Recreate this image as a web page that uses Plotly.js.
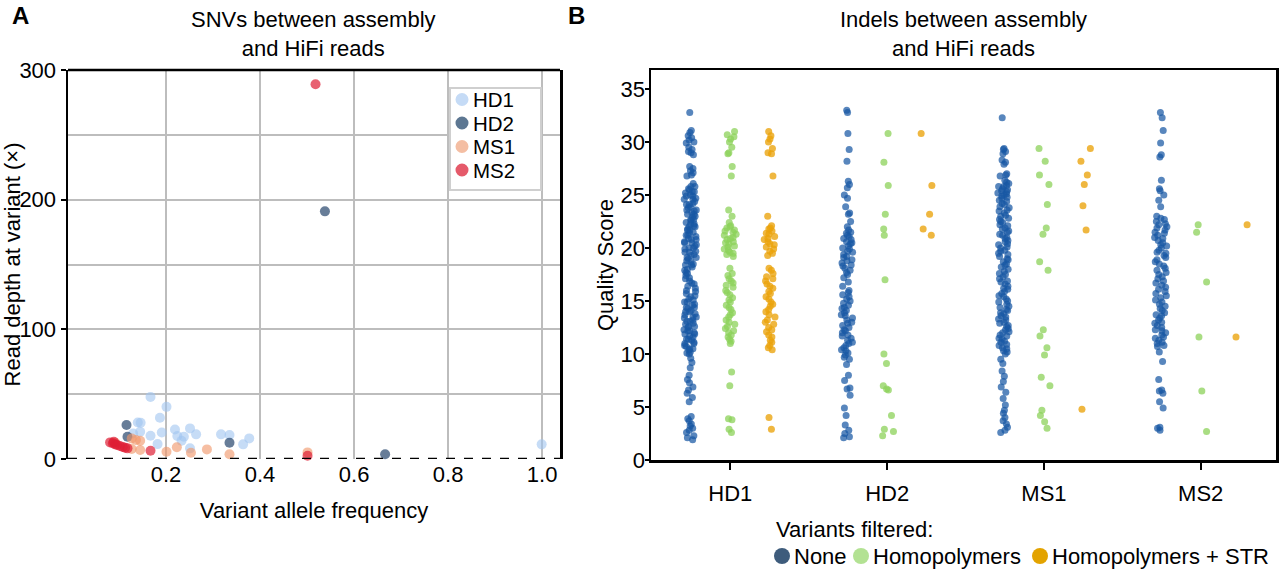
<!DOCTYPE html>
<html>
<head>
<meta charset="utf-8">
<script src="https://cdn.plot.ly/plotly-3.0.1.min.js"></script>
<style>
  html, body { margin: 0; padding: 0; background: #ffffff; }
  #chart { width: 1280px; height: 571px; }
</style>
</head>
<body>
<div id="chart"></div>
<script>
// ---------- Panel A: SNVs between assembly and HiFi reads ----------
const snvSamples = ['HD1', 'HD2', 'MS1', 'MS2'];

const hd1Vaf   = [0.167, 0.201, 0.187, 0.140, 0.146, 0.145, 0.191, 0.167, 0.219, 0.224, 0.233, 0.238, 0.251, 0.264, 0.251, 0.182, 0.317, 0.335, 0.364, 0.377, 0.999, 0.130];
const hd1Depth = [47.9, 40.2, 31.8, 28.2, 27.9, 21.0, 20.5, 17.9, 22.8, 17.7, 14.1, 17.2, 23.6, 19.0, 8.2, 11.5, 19.0, 18.5, 11.3, 15.9, 11.3, 19.7];

const hd2Vaf   = [0.116, 0.118, 0.335, 0.538, 0.666];
const hd2Depth = [26.2, 17.2, 12.5, 191.0, 3.6];

const ms1Vaf   = [0.127, 0.145, 0.127, 0.145, 0.201, 0.223, 0.253, 0.287, 0.335, 0.501, 0.092, 0.136];
const ms1Depth = [15.9, 14.1, 7.7, 6.9, 5.6, 9.0, 4.8, 7.4, 3.6, 5.1, 12.5, 14.6];

const ms2Vaf   = [0.081, 0.087, 0.092, 0.096, 0.102, 0.108, 0.113, 0.118, 0.089, 0.167, 0.501, 0.518];
const ms2Depth = [12.8, 12.1, 11.3, 10.8, 10.0, 9.2, 8.7, 8.2, 13.3, 6.4, 2.5, 289.0];

const snvColors = ['rgba(160,196,240,0.6)', 'rgba(45,75,112,0.72)', 'rgba(240,150,105,0.62)', 'rgba(222,30,52,0.7)'];
const snvLegendColors = ['#c5dbf6', '#5d7792', '#f4bea3', '#e55a6a'];

// ---------- Panel B: Indels between assembly and HiFi reads ----------
const indelSamples = ['HD1', 'HD2', 'MS1', 'MS2'];
const filterNames = ['None', 'Homopolymers', 'Homopolymers + STR'];

// Quality scores, filter "None"
const qualHD1None = [
  32.8, 31.1, 30.9, 30.6, 30.4, 30.2, 30.0, 29.9, 29.5, 29.3, 29.1, 29.0, 28.8, 27.7, 27.5, 27.3, 27.1, 26.9, 26.8,
  26.1, 25.8, 25.8, 25.6, 25.5, 25.3, 25.3, 25.2, 25.0, 24.9, 24.9, 24.7, 24.6, 24.6, 24.4, 24.2, 24.1, 24.1, 23.9, 23.8,
  23.6, 23.6, 23.5, 23.3, 23.2, 23.2, 23.0, 22.9, 22.7, 22.7, 22.6, 22.4, 22.3, 22.3, 22.1, 22.0, 22.0, 21.8, 21.7, 21.7,
  21.5, 21.4, 21.2, 21.2, 21.1, 20.9, 20.8, 20.8, 20.6, 20.5, 20.5, 20.3, 20.2, 20.0, 20.0, 19.9, 19.7, 19.6, 19.6, 19.4,
  19.3, 19.1, 19.1, 19.0, 18.8, 18.7, 18.5, 18.4, 18.4, 18.2, 18.0, 17.9, 17.7, 17.6, 17.4, 17.2, 17.1, 16.9, 16.7, 16.6,
  16.4, 16.2, 16.0, 15.9, 15.7, 15.5, 15.4, 15.2, 15.1, 14.9, 14.9, 14.7, 14.6, 14.4, 14.4, 14.3, 14.1, 14.0, 14.0, 13.8,
  13.7, 13.5, 13.5, 13.4, 13.2, 13.1, 13.1, 12.9, 12.8, 12.6, 12.6, 12.5, 12.3, 12.2, 12.2, 12.0, 11.9, 11.9, 11.7, 11.6,
  11.4, 11.4, 11.3, 11.1, 11.0, 11.0, 10.8, 10.7, 10.5, 10.5, 10.4, 10.2, 10.1, 10.0,
  9.6, 9.2, 8.7, 8.0, 7.6, 7.3, 6.9, 6.6, 6.3, 5.9, 5.5, 4.1, 3.9, 3.7, 3.4, 3.2, 3.0, 2.8, 2.6, 2.3, 2.1, 1.9
];
const qualHD2None = [
  33.0, 32.8, 30.8, 29.3, 28.2, 26.3, 26.0, 25.7, 25.0, 24.7, 23.9, 23.3, 23.2, 22.5, 22.0,
  21.7, 21.5, 21.4, 21.2, 21.1, 20.9, 20.8, 20.6, 20.5, 20.4, 20.2, 20.0, 19.9, 19.7, 19.6, 19.4, 19.2, 19.1, 18.9, 18.8,
  18.6, 18.4, 18.3, 18.1, 17.9, 17.7, 17.5, 17.2, 16.8, 16.4, 16.0, 15.8, 15.6,
  15.4, 15.2, 15.0, 14.8, 14.6, 14.4, 14.3, 14.1, 13.9, 13.7, 13.6, 13.4, 13.2, 13.0, 12.9, 12.7, 12.5, 12.3, 12.2, 12.0,
  11.8, 11.7, 11.5, 11.3, 11.1, 11.0, 10.8, 10.6, 10.4, 10.3, 10.1, 9.9, 9.7, 9.5,
  9.0, 8.0, 7.5, 6.8, 6.7, 6.1, 4.9, 4.2, 3.3, 2.8, 2.5, 2.2, 2.1
];
const qualMS1None = [
  32.3, 29.4, 29.3, 29.1, 28.9, 28.3, 28.1, 27.9, 27.0, 26.9, 26.8,
  26.4, 26.2, 26.1, 25.9, 25.8, 25.8, 25.6, 25.5, 25.4, 25.3, 25.2, 25.1, 25.0, 24.9, 24.8, 24.7, 24.5, 24.4, 24.2, 24.1,
  23.9, 23.8, 23.6, 23.5, 23.3, 23.1, 23.0, 22.8, 22.7, 22.5, 22.4, 22.2, 22.1, 21.9, 21.8, 21.6, 21.5, 21.3, 21.2, 21.0,
  20.9, 20.7, 20.6, 20.4, 20.3, 20.1, 20.0, 19.8, 19.7, 19.5, 19.4, 19.2, 19.0, 18.9, 18.7, 18.5, 18.4, 18.2, 18.0, 17.8,
  17.6, 17.5, 17.3, 17.1, 16.9, 16.8, 16.6, 16.4, 16.2, 16.1, 15.9, 15.7, 15.5, 15.4, 15.2, 15.0, 14.9, 14.7, 14.5, 14.4,
  14.2, 14.1, 13.9, 13.8, 13.6, 13.5, 13.3, 13.2, 13.0, 12.9, 12.7, 12.6, 12.4, 12.3, 12.1, 12.0, 11.8, 11.7, 11.5, 11.4,
  11.2, 11.1, 10.9, 10.8, 10.6, 10.5, 10.3, 10.2, 10.0,
  9.5, 9.1, 8.4, 7.9, 7.4, 6.9, 6.4, 5.8, 5.2, 4.7, 4.4, 4.0, 3.7, 3.4, 3.1, 2.8, 2.6
];
const qualMS2None = [
  32.8, 32.3, 31.1, 29.9, 28.8, 28.6, 26.4, 25.6, 25.4, 25.0, 24.5, 23.9,
  23.0, 22.8, 22.7, 22.5, 22.3, 22.2, 22.0, 21.9, 21.7, 21.5, 21.4, 21.2, 21.0, 20.9, 20.7, 20.5, 20.3, 20.2, 20.0, 19.8,
  19.6, 19.5, 19.3, 19.1, 18.9, 18.7, 18.5, 18.3, 18.1, 17.9, 17.7, 17.5, 17.3, 17.1, 16.9, 16.7, 16.5, 16.3, 16.1, 15.9,
  15.7, 15.5, 15.3, 15.1, 14.9, 14.7, 14.5, 14.3, 14.1, 13.9, 13.7, 13.6, 13.4, 13.2, 13.0, 12.9, 12.7, 12.5, 12.3, 12.2,
  12.0, 11.8, 11.6, 11.5, 11.3, 11.1, 11.0, 10.8, 10.7,
  10.2, 9.3, 7.6, 6.6, 6.5, 6.3, 5.5, 4.9, 3.1, 3.0, 2.8
];

// Quality scores, filter "Homopolymers"
const qualHD1Homo = [
  31.0, 30.7, 30.5, 30.3, 30.0, 29.5, 29.0, 28.9, 27.7, 26.8, 23.6, 23.0, 22.4,
  22.1, 22.0, 21.9, 21.7, 21.6, 21.5, 21.3, 21.2, 21.0, 20.9, 20.8, 20.6, 20.5, 20.4, 20.2, 20.1, 19.9, 19.8, 19.6, 19.5, 19.4, 19.2,
  18.1,
  17.6, 17.4, 17.1, 16.9, 16.7, 16.5, 16.3, 16.0, 15.8, 15.6, 15.3, 15.1, 14.9, 14.6, 14.4, 14.2, 13.9, 13.7, 13.5, 13.2,
  13.0, 12.8, 12.6, 12.4, 12.2, 12.0, 11.8, 11.6, 11.4, 11.2, 11.0,
  8.3, 7.0, 3.9, 3.8, 2.9, 2.6
];
const qualHD2Homo = [30.8, 28.1, 25.9, 23.2, 21.8, 21.2, 17.0, 10.0, 9.1, 7.0, 6.7, 6.6, 4.2, 2.9, 2.7, 2.3];
const qualMS1Homo = [29.4, 28.2, 26.9, 26.0, 24.1, 21.9, 21.3, 18.7, 17.9, 12.3, 11.7, 10.6, 9.9, 7.8, 7.0, 4.7, 4.2, 3.6, 3.0];
const qualMS2Homo = [22.2, 21.5, 16.8, 11.6, 6.5, 2.7];

// Quality scores, filter "Homopolymers + STR"
const qualHD1Str = [
  31.0, 30.6, 30.3, 30.0, 29.4, 29.0, 28.9, 26.8, 23.0,
  22.1, 21.9, 21.8, 21.6, 21.4, 21.3, 21.1, 20.9, 20.8, 20.6, 20.4, 20.3, 20.1, 19.9, 19.7, 19.5, 19.3,
  18.1, 17.9, 17.6, 17.3, 17.1, 16.9, 16.6, 16.4, 16.2, 15.9, 15.7, 15.4, 15.2, 14.9, 14.7, 14.5, 14.2, 14.0, 13.7, 13.5,
  13.2, 13.0, 12.8, 12.5, 12.3, 12.1, 11.8, 11.6, 11.3, 11.1, 10.8, 10.6, 10.4,
  4.0, 2.9
];
const qualHD2Str = [30.8, 25.9, 23.2, 21.8, 21.2];
const qualMS1Str = [29.4, 28.2, 26.9, 26.0, 24.0, 21.7, 4.8];
const qualMS2Str = [22.2, 11.6];

const indelColors = ['rgba(24,88,163,0.72)', 'rgba(140,210,90,0.75)', 'rgba(234,163,10,0.78)'];
const legendDotColors = ['#3e5c7c', '#b3e293', '#e3a300'];

// ---------- traces ----------
const FONT = 'Liberation Sans, Arial, sans-serif';
const FS = 22;
const snvSeries = [[hd1Vaf, hd1Depth], [hd2Vaf, hd2Depth], [ms1Vaf, ms1Depth], [ms2Vaf, ms2Depth]];

const traces = snvSeries.map((s, i) => ({
  type: 'scatter',
  mode: 'markers',
  name: snvSamples[i],
  x: s[0],
  y: s[1],
  xaxis: 'x',
  yaxis: 'y',
  cliponaxis: false,
  marker: { color: snvColors[i], size: 10, line: { width: 0 } },
  showlegend: false,
  hoverinfo: 'x+y+name'
}));

const indelByFilter = [
  [qualHD1None, qualHD2None, qualMS1None, qualMS2None],
  [qualHD1Homo, qualHD2Homo, qualMS1Homo, qualMS2Homo],
  [qualHD1Str, qualHD2Str, qualMS1Str, qualMS2Str]
];

indelByFilter.forEach((groups, f) => {
  const xs = [], ys = [];
  groups.forEach((vals, s) => {
    vals.forEach(v => { xs.push(indelSamples[s]); ys.push(v); });
  });
  traces.push({
    type: 'box',
    name: filterNames[f],
    x: xs,
    y: ys,
    xaxis: 'x2',
    yaxis: 'y2',
    boxpoints: 'all',
    jitter: 0.32,
    pointpos: 0,
    fillcolor: 'rgba(0,0,0,0)',
    line: { width: 0, color: 'rgba(0,0,0,0)' },
    marker: { color: indelColors[f], size: 7, line: { width: 0 } },
    showlegend: false,
    hoverinfo: 'y'
  });
});

// ---------- layout helpers ----------
const W = 1280, H = 571;
const px = v => v / W;
const py = v => 1 - v / H;
const dot = (cx, cy, r, color) => ({
  type: 'circle', xref: 'paper', yref: 'paper',
  x0: px(cx - r), x1: px(cx + r), y0: py(cy + r), y1: py(cy - r),
  fillcolor: color, line: { width: 0 }
});
const label = (text, x, y, size, anchor) => ({
  text: text, xref: 'paper', yref: 'paper', x: px(x), y: py(y),
  xanchor: anchor || 'left', yanchor: 'middle', showarrow: false,
  font: { size: size }
});

// sample legend of panel A (boxed, top right of the plot)
const legendBox = { x0: 450, x1: 541, y0: 88, y1: 190 };
const legendRows = [99.5, 123, 146.5, 170];
const legendShapes = [{
  type: 'rect', xref: 'paper', yref: 'paper',
  x0: px(legendBox.x0), x1: px(legendBox.x1), y0: py(legendBox.y1), y1: py(legendBox.y0),
  line: { color: '#cfcfcf', width: 2 }, fillcolor: '#ffffff'
}].concat(snvSamples.map((s, i) => dot(462, legendRows[i], 6.5, snvLegendColors[i])));
const legendLabels = snvSamples.map((s, i) => label(s, 471, legendRows[i], 20.5));

// filter legend below panel B
const filterDotX = [782, 861, 1040];
const filterTextX = [792, 871, 1050];
const filterRowY = 556;
const filterShapes = filterNames.map((n, i) => dot(filterDotX[i], filterRowY, 8, legendDotColors[i]));
const filterLabels = filterNames.map((n, i) => label(n, filterTextX[i], filterRowY, FS));

const layout = {
  width: W,
  height: H,
  margin: { l: 0, r: 0, t: 0, b: 0 },
  paper_bgcolor: '#ffffff',
  plot_bgcolor: '#ffffff',
  font: { family: FONT, size: FS, color: '#000000' },
  boxmode: 'group',
  boxgap: 0.234,
  boxgroupgap: 0,
  showlegend: false,
  xaxis: {
    domain: [px(68), px(560)],
    range: [-0.0085, 1.038],
    tickvals: [0.2, 0.4, 0.6, 0.8, 1.0],
    ticktext: ['0.2', '0.4', '0.6', '0.8', '1.0'],
    ticks: '',
    showgrid: true,
    gridcolor: '#bdbdbd',
    gridwidth: 2,
    zeroline: false,
    showline: false,
    tickfont: { size: FS },
    title: { text: 'Variant allele frequency', font: { size: FS }, standoff: 16 },
    anchor: 'y'
  },
  yaxis: {
    domain: [py(459), py(70)],
    range: [0, 300],
    tick0: 0,
    dtick: 100,
    ticks: 'outside',
    ticklen: 5,
    tickwidth: 2,
    tickcolor: '#000000',
    showgrid: true,
    gridcolor: '#bdbdbd',
    gridwidth: 2,
    minor: { tick0: 0, dtick: 50, showgrid: true, gridcolor: '#bdbdbd', gridwidth: 2, ticks: '' },
    zeroline: false,
    showline: true,
    mirror: true,
    linecolor: '#000000',
    linewidth: 2.5,
    tickfont: { size: FS },
    title: { text: 'Read depth at variant (×)', font: { size: FS }, standoff: 2 },
    anchor: 'x'
  },
  xaxis2: {
    domain: [px(651), px(1276)],
    type: 'category',
    categoryorder: 'array',
    categoryarray: indelSamples,
    range: [-0.506, 3.48],
    ticks: 'outside',
    ticklen: 7,
    tickwidth: 2,
    tickcolor: '#000000',
    ticklabelstandoff: 5,
    showgrid: false,
    zeroline: false,
    showline: true,
    mirror: true,
    linecolor: '#000000',
    linewidth: 2.5,
    tickfont: { size: FS },
    anchor: 'y2'
  },
  yaxis2: {
    domain: [py(460), py(70)],
    range: [0, 36.8],
    tick0: 0,
    dtick: 5,
    ticks: 'outside',
    ticklen: 4,
    tickwidth: 2,
    tickcolor: '#000000',
    ticklabelstandoff: -5,
    showgrid: false,
    zeroline: false,
    showline: true,
    mirror: true,
    linecolor: '#000000',
    linewidth: 2.5,
    tickfont: { size: FS },
    anchor: 'x2'
  },
  shapes: [
    // top frame of panel A
    { type: 'line', xref: 'x domain', yref: 'y domain', x0: 0, x1: 1, y0: 1, y1: 1,
      line: { color: '#000000', width: 2.5 } },
    // dashed baseline at zero depth
    { type: 'line', xref: 'x domain', yref: 'y', x0: 0, x1: 1, y0: 0, y1: 0,
      line: { color: '#000000', width: 2.5, dash: 'dash' } }
  ].concat(legendShapes, filterShapes),
  annotations: [
    label('<b>A</b>', 10, 15, 24),
    label('<b>B</b>', 566, 15, 24),
    label('SNVs between assembly<br>and HiFi reads', 313, 34, FS, 'center'),
    label('Indels between assembly<br>and HiFi reads', 963, 34, FS, 'center'),
    // y title of panel B
    { text: 'Quality Score', xref: 'paper', yref: 'paper', x: px(606), y: py(265),
      xanchor: 'center', yanchor: 'middle', textangle: -90, showarrow: false, font: { size: FS } },
    label('Variants filtered:', 774, 529, FS)
  ].concat(legendLabels, filterLabels)
};

Plotly.newPlot('chart', traces, layout, { displayModeBar: false, staticPlot: true });
</script>
</body>
</html>
